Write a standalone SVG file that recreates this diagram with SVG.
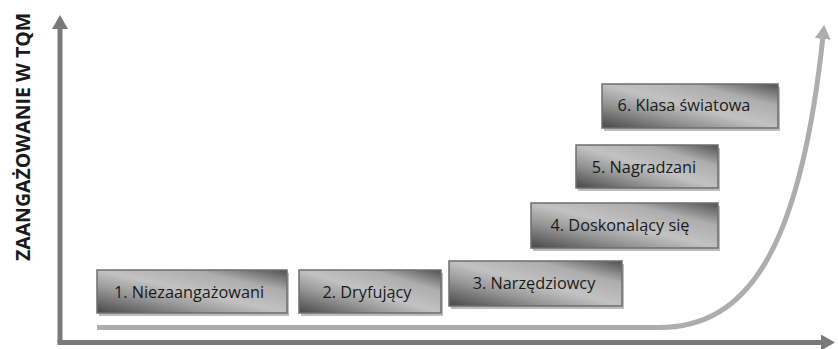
<svg xmlns="http://www.w3.org/2000/svg" width="838" height="349" viewBox="0 0 838 349">
  <style>
    .box { stroke: #6e6e6e; stroke-width: 1.5; fill: url(#boxFill); }
    .shadow { fill: #bdbdbd; }
    .lbl { font-family: "Open Sans", "Liberation Sans", sans-serif; font-size: 16.3px; fill: #1a1a1a; text-anchor: middle; dominant-baseline: central; }
    .axis { stroke: #7a7a7a; stroke-width: 5; fill: none; }
    .path { stroke: #adadad; stroke-width: 5; fill: none; }
    .ylabel { font-family: "Open Sans", "Liberation Sans", sans-serif; font-size: 19.5px; font-weight: bold; fill: #1a1a1a; text-anchor: middle; dominant-baseline: central; }
  </style>
  <defs>
    <linearGradient id="boxFill" x1="0" y1="1" x2="1" y2="0">
      <stop offset="0" stop-color="#474747"/>
      <stop offset="0.3" stop-color="#979797"/>
      <stop offset="0.5" stop-color="#c2c2c2"/>
      <stop offset="0.75" stop-color="#adadad"/>
      <stop offset="1" stop-color="#505050"/>
    </linearGradient>
    <marker id="axisHead" markerUnits="userSpaceOnUse" markerWidth="18" markerHeight="18" refX="3" refY="8" orient="auto">
      <path d="M0,0 L14,8 L0,16 Z" fill="#7a7a7a"/>
    </marker>
    <marker id="pathHead" markerUnits="userSpaceOnUse" markerWidth="18" markerHeight="18" refX="3" refY="8" orient="auto">
      <path d="M0,0 L14,8 L0,16 Z" fill="#adadad"/>
    </marker>
  </defs>

  <g id="connectors">
    <!-- axes -->
    <path class="axis" d="M60,342.5 L60,26" marker-end="url(#axisHead)"/>
    <path class="axis" d="M57.5,342.5 L824,342.5" marker-end="url(#axisHead)"/>
    <!-- growth path -->
    <path class="path" d="M97,327.5 L659,327.5 C 745,327.5 800,255 823,36" marker-end="url(#pathHead)"/>
  </g>

  <text class="ylabel" transform="translate(22,137) rotate(-90)">ZAANGAŻOWANIE W TQM</text>

  <g id="stage1">
    <rect class="shadow" x="99" y="273" width="190" height="43"/>
    <rect class="box" x="97" y="270" width="190" height="43"/>
    <text class="lbl" x="189" y="292">1. Niezaangażowani</text>
  </g>
  <g id="stage2">
    <rect class="shadow" x="301" y="273" width="142" height="43"/>
    <rect class="box" x="299" y="270" width="142" height="43"/>
    <text class="lbl" x="367" y="292">2. Dryfujący</text>
  </g>
  <g id="stage3">
    <rect class="shadow" x="451" y="264" width="173" height="45"/>
    <rect class="box" x="449" y="261" width="173" height="45"/>
    <text class="lbl" x="534" y="283">3. Narzędziowcy</text>
  </g>
  <g id="stage4">
    <rect class="shadow" x="533" y="206" width="187" height="45"/>
    <rect class="box" x="531" y="203" width="187" height="45"/>
    <text class="lbl" x="620" y="225">4. Doskonalący się</text>
  </g>
  <g id="stage5">
    <rect class="shadow" x="578" y="148" width="142" height="43"/>
    <rect class="box" x="576" y="145" width="142" height="43"/>
    <text class="lbl" x="644" y="167">5. Nagradzani</text>
  </g>
  <g id="stage6">
    <rect class="shadow" x="604" y="87" width="176" height="44"/>
    <rect class="box" x="602" y="84" width="176" height="44"/>
    <text class="lbl" x="684" y="105">6. Klasa światowa</text>
  </g>
</svg>
